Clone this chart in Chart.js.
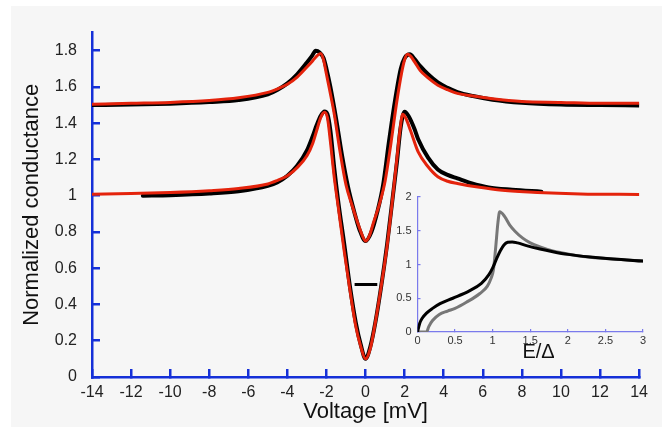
<!DOCTYPE html>
<html>
<head>
<meta charset="utf-8">
<script src="https://cdn.jsdelivr.net/npm/chart.js@4.4.1/dist/chart.umd.min.js"></script>
<style>
  html, body { margin: 0; padding: 0; background: #fff; }
  #wrap { position: relative; width: 662px; height: 427px; overflow: hidden; }
  #bg { position: absolute; left: 11px; top: 6px; width: 651px; height: 421px; background: #f6f6f6; }
  #main { position: absolute; left: 0; top: 0; }
  #inset { position: absolute; left: 380px; top: 180px; }
</style>
</head>
<body>
<div id="wrap">
  <div id="bg"></div>
  <canvas id="main" width="662" height="427"></canvas>
  <canvas id="inset" width="282" height="190"></canvas>
</div>
<script>
// ── main panel: conductance vs voltage ───────────────
const voltTicks = [-14, -12, -10, -8, -6, -4, -2, 0, 2, 4, 6, 8, 10, 12, 14];
const condTicks = [0, 0.2, 0.4, 0.6, 0.8, 1, 1.2, 1.4, 1.6, 1.8];

// upper curve (shifted by 0.5)
const upperFitV = [-14,-12,-10,-8,-6.5,-5,-4.5,-4,-3.5,-3,-2.7,-2.5,-2.3,-2.15,-2,-1.85,-1.6,-1.3,-1,-0.7,-0.4,-0.2,0,0.2,0.4,0.7,1,1.3,1.6,1.85,2,2.15,2.3,2.5,2.8,3.2,3.7,4.2,4.7,5.5,6.5,8,10,12,14];
const upperFit  = [1.505,1.51,1.515,1.525,1.54,1.57,1.59,1.615,1.655,1.71,1.745,1.77,1.785,1.75,1.67,1.59,1.45,1.24,1.06,0.95,0.85,0.79,0.75,0.78,0.85,0.95,1.08,1.29,1.52,1.68,1.75,1.78,1.77,1.74,1.69,1.65,1.61,1.585,1.565,1.55,1.535,1.52,1.515,1.51,1.51];
const upperDataV = [-14,-12,-10,-8,-6.5,-5,-4.5,-4,-3.5,-3,-2.75,-2.55,-2.35,-2.15,-2,-1.8,-1.5,-1.2,-0.9,-0.6,-0.3,0,0.3,0.6,0.9,1.2,1.5,1.8,2,2.27,2.5,2.8,3.2,3.7,4.2,4.7,5.5,6.5,8,10,12,14];
const upperData  = [1.5,1.503,1.508,1.517,1.528,1.56,1.585,1.62,1.67,1.735,1.77,1.8,1.79,1.76,1.70,1.60,1.42,1.22,1.05,0.92,0.81,0.75,0.80,0.91,1.06,1.30,1.52,1.70,1.76,1.78,1.755,1.715,1.67,1.625,1.595,1.572,1.55,1.53,1.513,1.503,1.5,1.498];

// lower curve
const lowerFitV = [-14,-12,-10,-8,-6.5,-5,-4.5,-4,-3.5,-3,-2.7,-2.5,-2.3,-2.1,-1.95,-1.8,-1.6,-1.4,-1.1,-0.8,-0.5,-0.25,0,0.25,0.5,0.8,1.1,1.4,1.6,1.75,1.9,2.05,2.3,2.7,3.2,3.7,4.2,4.7,5.75,7,8.8,11,14];
const lowerFit  = [1.008,1.012,1.018,1.028,1.04,1.065,1.085,1.11,1.155,1.22,1.29,1.36,1.43,1.46,1.43,1.30,1.10,0.94,0.70,0.48,0.28,0.17,0.1,0.16,0.30,0.50,0.72,1.0,1.2,1.35,1.45,1.43,1.36,1.24,1.16,1.105,1.08,1.068,1.048,1.03,1.018,1.01,1.007];
const lowerDataV = [-11.4,-10,-8,-6.5,-5,-4.5,-4,-3.5,-3,-2.7,-2.5,-2.3,-2.1,-1.95,-1.8,-1.6,-1.4,-1.1,-0.8,-0.5,-0.25,0,0.25,0.5,0.8,1.1,1.4,1.6,1.8,2,2.2,2.5,2.7,3.2,3.7,4.2,4.7,5.4,6.3,7.5,9];
const lowerData  = [1.0,1.003,1.012,1.025,1.055,1.075,1.11,1.165,1.25,1.33,1.39,1.44,1.465,1.45,1.36,1.15,0.97,0.74,0.50,0.30,0.18,0.1,0.17,0.30,0.50,0.73,1.0,1.18,1.38,1.463,1.44,1.37,1.31,1.21,1.145,1.115,1.096,1.07,1.046,1.033,1.022];

// short black marker under the dip
const barV = [-0.56, 0.6];
const barG = [0.51, 0.51];

// ── inset: DOS vs E/Δ ──────────────────────────────
const insetXTicks = [0, 0.5, 1, 1.5, 2, 2.5, 3];
const insetYTicks = [0, 0.5, 1, 1.5, 2];
const insetBlackE = [0,0.03,0.06,0.12,0.2,0.3,0.47,0.69,0.85,0.95,1.0,1.05,1.1,1.15,1.2,1.26,1.33,1.45,1.63,1.8,2.0,2.3,2.6,3.0];
const insetBlack  = [0,0.13,0.2,0.28,0.35,0.42,0.5,0.61,0.72,0.85,0.95,1.08,1.2,1.29,1.33,1.335,1.32,1.28,1.23,1.19,1.15,1.11,1.08,1.05];
const insetGrayE = [0,0.12,0.15,0.2,0.29,0.4,0.5,0.65,0.83,0.93,0.98,1.01,1.04,1.07,1.093,1.16,1.23,1.3,1.4,1.5,1.63,1.8,1.98,2.2,2.5,2.8,3.0];
const insetGray  = [0,0,0.08,0.17,0.26,0.31,0.35,0.44,0.57,0.68,0.80,0.92,1.25,1.62,1.78,1.71,1.58,1.49,1.39,1.32,1.26,1.2,1.16,1.12,1.09,1.065,1.05];

const RED   = '#e4230c';
const BLUE  = '#1530d8';
const LBLUE = '#7a7aec';
const FONT  = "'Liberation Sans', Arial, Helvetica, sans-serif";

Chart.defaults.font.family = FONT;

const pts = (xs, ys) => xs.map((x, i) => ({ x, y: ys[i] }));
const fixTicks = arr => scale => { scale.ticks = arr.map(v => ({ value: v })); };
const fmt = v => String(Math.round(v * 100) / 100);   // 1 not 1.0

// negative tickLength -> tick marks point into the plot
const inwardGrid = (color, width, len) => ({
  drawOnChartArea: false,
  drawTicks: true,
  tickLength: -len,
  color,
  tickColor: color,
  tickWidth: width,
  lineWidth: width,
});

const lineDs = (data, color, width) => ({
  data,
  borderColor: color,
  backgroundColor: color,
  borderWidth: width,
  pointRadius: 0,
  fill: false,
  cubicInterpolationMode: 'monotone',
  borderCapStyle: 'round',
  borderJoinStyle: 'round',
});

new Chart(document.getElementById('main'), {
  type: 'line',
  data: {
    datasets: [
      lineDs(pts(upperFitV, upperFit), RED, 3),
      lineDs(pts(lowerFitV, lowerFit), RED, 3),
      lineDs(pts(upperDataV, upperData), '#000', 4),
      lineDs(pts(lowerDataV, lowerData), '#000', 4),
      { ...lineDs(pts(barV, barG), '#000', 3), borderCapStyle: 'butt' },
    ],
  },
  options: {
    responsive: false,
    animation: false,
    parsing: false,
    layout: { padding: { top: 18, right: 20, left: 0, bottom: 0 } },
    plugins: {
      legend: { display: false },
      tooltip: { enabled: false },
    },
    scales: {
      x: {
        type: 'linear',
        min: -14, max: 14,
        afterBuildTicks: fixTicks(voltTicks),
        afterFit: s => { s.height = 50; },
        border: { color: BLUE, width: 2.5 },
        grid: inwardGrid(BLUE, 2.5, 8),
        ticks: { padding: 14, font: { size: 16 }, color: '#222', maxRotation: 0, autoSkip: false, callback: fmt },
        title: { display: true, text: 'Voltage [mV]', font: { size: 22 }, color: '#111', padding: { top: 0, bottom: 2 } },
      },
      y: {
        type: 'linear',
        min: 0, max: 1.9,
        afterBuildTicks: fixTicks(condTicks),
        afterFit: s => { s.width = 92; },
        border: { color: BLUE, width: 2.5 },
        grid: inwardGrid(BLUE, 2.5, 8),
        ticks: { padding: 23, font: { size: 16 }, color: '#222', autoSkip: false, callback: fmt },
        title: { display: true, text: 'Normalized conductance', font: { size: 22 }, color: '#111', padding: { top: 19, bottom: 0 } },
      },
    },
  },
});

new Chart(document.getElementById('inset'), {
  type: 'line',
  data: {
    datasets: [
      lineDs(pts(insetBlackE, insetBlack), '#000', 3),
      lineDs(pts(insetGrayE, insetGray), '#777', 3),
    ],
  },
  options: {
    responsive: false,
    animation: false,
    parsing: false,
    layout: { padding: { top: 17, right: 19, left: 0, bottom: 0 } },
    plugins: {
      legend: { display: false },
      tooltip: { enabled: false },
    },
    scales: {
      x: {
        type: 'linear',
        min: 0, max: 3,
        afterBuildTicks: fixTicks(insetXTicks),
        afterFit: s => { s.height = 38; },
        border: { color: LBLUE, width: 1.2 },
        grid: inwardGrid(LBLUE, 1.2, 3),
        ticks: { padding: 5, font: { size: 11 }, color: '#333', maxRotation: 0, autoSkip: false, callback: fmt },
        title: { display: true, text: '   E/Δ', font: { size: 20 }, color: '#111', padding: { top: 0, bottom: 6 } },
      },
      y: {
        type: 'linear',
        min: 0, max: 2,
        afterBuildTicks: fixTicks(insetYTicks),
        afterFit: s => { s.width = 37.5; },
        border: { color: LBLUE, width: 1.2 },
        grid: inwardGrid(LBLUE, 1.2, 3),
        ticks: { padding: 9, font: { size: 11 }, color: '#333', autoSkip: false, callback: fmt },
      },
    },
  },
});
</script>
</body>
</html>
